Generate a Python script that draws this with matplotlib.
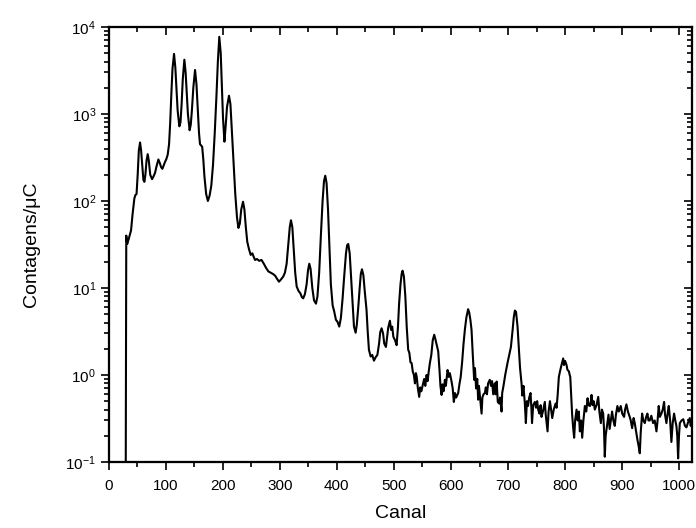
import numpy as np
import matplotlib
matplotlib.use('Agg')
import matplotlib.pyplot as plt
from matplotlib.ticker import LogLocator, MultipleLocator, NullFormatter

plt.rcParams['font.family'] = ['Liberation Sans', 'DejaVu Sans']

# espectro (canal, contagens/uC)
canal_a = [30, 31, 32.6, 35, 39.4, 42, 45.2, 47, 49, 51, 53, 55.2, 57, 59.5, 61, 62.8,
           64.5, 66.5, 68.6, 70.5, 73, 76.2, 78.5, 81.4, 84, 87.3, 90, 92, 94.3, 96.5,
           99, 101, 103.6, 106, 108, 110, 112, 114.7, 117, 119, 121, 124, 126, 128, 130,
           132.8, 135, 137, 139, 142, 144, 146, 148.5, 151.5, 154, 156.5, 158.5, 160.2,
           164, 166, 168, 171, 174, 177, 180, 183, 186, 189, 191.5, 194, 196.5, 198.5,
           200.5, 203, 205, 207.5, 211, 213.5, 216, 219, 222, 225, 227.5, 230, 232.5,
           235.6, 238, 240.5, 243, 246, 249, 252, 254, 256.6, 260, 264, 268, 272, 276,
           280, 284, 288, 292, 295, 298.6, 302, 306, 309, 312, 315, 317.5, 319.6, 322,
           324.5, 327, 329.6, 333, 336, 338.5, 341, 344, 347, 349.5, 351.7, 354, 357,
           360, 363.4, 366, 369, 372, 375, 377.5, 379.7, 382, 384.5, 387, 389.5, 392.6,
           395, 398.4, 401, 404.2, 407, 410, 413, 416, 418, 420, 422.5, 425, 427.5, 430,
           432.9, 435, 437.6, 440, 442, 444, 446.5, 449, 452, 454, 456.2, 459.2, 462,
           465, 468, 471, 474, 476, 478.4, 481, 483, 486, 488, 490, 493, 495, 497, 499,
           502, 504.7, 507, 509, 511.5, 513.5, 515.2, 517.5, 520, 522.5, 525, 527, 529,
           531, 533, 535, 536.8, 538.5, 540, 542, 544.3, 546, 548, 551.3, 553, 555,
           557.2, 559, 561, 563, 565.5, 568, 570.6, 572.5, 575, 577.6, 580, 581.5]
cont_a = [0.05, 40, 32, 36, 46, 70, 107, 117, 120, 200, 380, 470, 380, 230, 175, 166,
          200, 290, 345, 290, 200, 178, 190, 210, 250, 300, 270, 245, 234, 255,
          282, 300, 340, 450, 800, 1700, 3300, 4900, 3400, 1900, 1100, 720, 800, 1300, 2500,
          4200, 3000, 1700, 1000, 650, 750, 1100, 2000, 3200, 2200, 1100, 600, 450,
          420, 300, 190, 120, 100, 115, 150, 260, 600, 1600, 4000, 7700, 5000, 2200,
          900, 480, 700, 1200, 1620, 1300, 650, 280, 120, 65, 49, 55, 80,
          98, 80, 50, 34, 28, 24, 25, 23, 21, 21.5, 20.5, 21, 19, 17,
          15.5, 15, 14.5, 13.8, 12.8, 11.8, 12.5, 13.5, 15, 19, 32, 50, 60, 50,
          28, 15, 10.4, 9.2, 8.7, 7.9, 7.6, 8.5, 11, 16, 19, 16.5, 10,
          7.2, 6.6, 8, 15, 40, 100, 170, 195, 160, 80, 30, 11, 6.3,
          5.5, 4.3, 4.1, 3.6, 4.5, 7.5, 14, 25, 31, 32, 25, 13, 6.5, 3.6,
          3.06, 3.8, 6.1, 10, 14.5, 16.4, 14, 9, 5.6, 3.2, 1.95, 1.63, 1.7,
          1.46, 1.6, 1.7, 2.3, 3.1, 3.44, 3.0, 2.3, 2.1, 2.7, 3.5, 4.2, 3.3, 3.6, 2.75,
          2.5, 2.2, 3.5, 6.5, 11, 14.5, 15.8, 13.5, 8, 3.5, 1.95, 1.8, 1.4,
          1.37, 1.1, 1.0, 0.80, 1.05, 0.95, 0.7, 0.56, 0.72, 0.65, 0.80, 0.9, 0.75,
          1.0, 0.85, 1.1, 1.37, 1.7, 2.5, 2.9, 2.6, 2.2, 1.87, 1.1, 0.75]

canal_b = [583.5, 585, 587, 589.3, 591, 594, 596, 598, 601, 603, 605, 607, 609, 612.6,
           615, 617, 619.5, 622, 624.5, 627, 630, 632, 634, 636, 638, 640.6, 642, 644,
           646, 647.6, 649, 651, 653.6, 655, 657, 659.4, 661, 663, 665, 668, 670, 672,
           674, 676.6, 678, 680, 682, 684.4, 686, 688.6, 689.7, 692, 695, 699, 702, 705,
           708, 710, 712, 714, 716.6, 719, 721, 723.6, 725, 727, 729.4, 731.2, 733, 735,
           737, 739.4, 741, 742, 744, 747, 749, 751, 752.8, 755, 757, 758.6, 761, 764.4,
           766, 769.2, 771, 773.4, 775, 777.4, 780, 783.3, 785, 787, 789, 791, 793, 795,
           796.6, 798, 800, 802.5, 804, 806.6, 808, 809, 810.5, 812.3, 814, 815.8, 817.5,
           820, 822, 824, 825.8, 828, 829.9, 832, 834.6, 837, 839.3, 841, 843.4, 845,
           846.3, 848, 850, 852, 855, 858, 860, 862.6, 864.5, 866.7, 868, 869.5, 871,
           874, 876, 878, 880, 882.3, 884.5, 887, 889, 891.6, 894, 897.5, 900, 903.3,
           905, 907.4, 910, 913.2, 915, 917.4, 920, 922, 924.5, 926.7, 929, 930.8, 932.5,
           934.9, 937, 939.6, 942, 944.2, 946, 948.3, 951, 954.1, 957, 960, 962, 964,
           966, 968.7, 971, 973.4, 975, 977.5, 979.5, 981.6, 984, 986.2, 988.5, 990.9,
           993, 995, 996.5, 998, 999.5, 1001, 1004, 1007, 1010, 1012.6, 1015, 1018.4,
           1020, 1022]
cont_b = [0.59, 0.78, 0.65, 0.88, 0.75, 1.14, 0.95, 1.05, 0.84, 0.7, 0.49, 0.62, 0.55, 0.62,
          0.8, 0.95, 1.4, 2.3, 3.4, 4.6, 5.7, 5.2, 4.3, 3.3, 1.8, 0.88, 1.2, 0.7,
          0.9, 0.52, 0.75, 0.55, 0.36, 0.55, 0.6, 0.62, 0.72, 0.6, 0.8, 0.88, 0.75, 0.85,
          0.6, 0.80, 0.6, 0.84, 0.49, 0.47, 0.55, 0.38, 0.62, 0.75, 1.0, 1.37, 1.7, 2.1,
          3.3, 4.6, 5.5, 5.3, 3.6, 2.0, 1.2, 0.80, 0.58, 0.75, 0.47, 0.28, 0.5, 0.44,
          0.55, 0.62, 0.4, 0.28, 0.45, 0.49, 0.42, 0.5, 0.40, 0.36, 0.45, 0.33, 0.38, 0.49,
          0.35, 0.225, 0.38, 0.50, 0.42, 0.32, 0.4, 0.47, 0.42, 0.6, 0.95, 1.1, 1.25, 1.4,
          1.55, 1.3, 1.45, 1.30, 1.15, 1.10, 1.0, 0.95, 0.6, 0.35, 0.25, 0.19, 0.3,
          0.40, 0.3, 0.38, 0.225, 0.3, 0.19, 0.3, 0.44, 0.38, 0.54, 0.45, 0.44, 0.5,
          0.59, 0.45, 0.5, 0.40, 0.45, 0.56, 0.38, 0.28, 0.4, 0.36, 0.25, 0.115, 0.2,
          0.28, 0.35, 0.24, 0.3, 0.38, 0.3, 0.26, 0.35, 0.44, 0.38, 0.44, 0.36, 0.33,
          0.4, 0.46, 0.38, 0.33, 0.3, 0.245, 0.32, 0.28, 0.22, 0.18, 0.15, 0.126, 0.22,
          0.36, 0.3, 0.28, 0.33, 0.36, 0.3, 0.30, 0.34, 0.28, 0.3, 0.225, 0.3, 0.44,
          0.33, 0.36, 0.4, 0.49, 0.35, 0.28, 0.36, 0.44, 0.3, 0.17, 0.28, 0.36,
          0.3, 0.26, 0.2, 0.11, 0.2, 0.28, 0.3, 0.31, 0.26, 0.25, 0.28, 0.32,
          0.26, 0.3]

canal = canal_a + canal_b
contagens = cont_a + cont_b

fig = plt.figure(figsize=(6.96, 5.28), dpi=100)
ax = fig.add_axes([0.156, 0.125, 0.838, 0.824])
ax.plot(canal, contagens, color='black', linewidth=1.5)

ax.set_yscale('log')
ax.set_xlim(0, 1022)
ax.set_ylim(0.1, 1e4)

ax.xaxis.set_major_locator(MultipleLocator(100))
ax.xaxis.set_minor_locator(MultipleLocator(50))
ax.yaxis.set_major_locator(LogLocator(base=10, numticks=10))
ax.yaxis.set_minor_locator(LogLocator(base=10, subs=np.arange(2, 10), numticks=10))
ax.yaxis.set_minor_formatter(NullFormatter())

ax.tick_params(which='major', direction='out', length=6, width=1.2, labelsize=11, pad=3)
ax.tick_params(axis='x', which='major', pad=6)
ax.tick_params(which='minor', direction='out', length=3.5, width=1.2)

# eixos de cima e da direita com ticks para dentro
axt = ax.twiny()
axt.set_xlim(ax.get_xlim())
axt.xaxis.set_major_locator(MultipleLocator(100))
axt.xaxis.set_minor_locator(MultipleLocator(50))
axt.tick_params(which='major', direction='in', length=6, width=1.2, labeltop=False)
axt.tick_params(which='minor', direction='in', length=3.5, width=1.2)

axr = ax.twinx()
axr.set_yscale('log')
axr.set_ylim(ax.get_ylim())
axr.yaxis.set_major_locator(LogLocator(base=10, numticks=10))
axr.yaxis.set_minor_locator(LogLocator(base=10, subs=np.arange(2, 10), numticks=10))
axr.tick_params(which='major', direction='in', length=6, width=1.2, labelright=False)
axr.tick_params(which='minor', direction='in', length=3.5, width=1.2, labelright=False)

for a in (ax, axt, axr):
    for s in a.spines.values():
        s.set_linewidth(1.5)

ax.set_xlabel('Canal', fontsize=14, labelpad=9)
ax.set_ylabel('Contagens/μC', fontsize=14, labelpad=18)

fig.savefig('out.png', dpi=100)
